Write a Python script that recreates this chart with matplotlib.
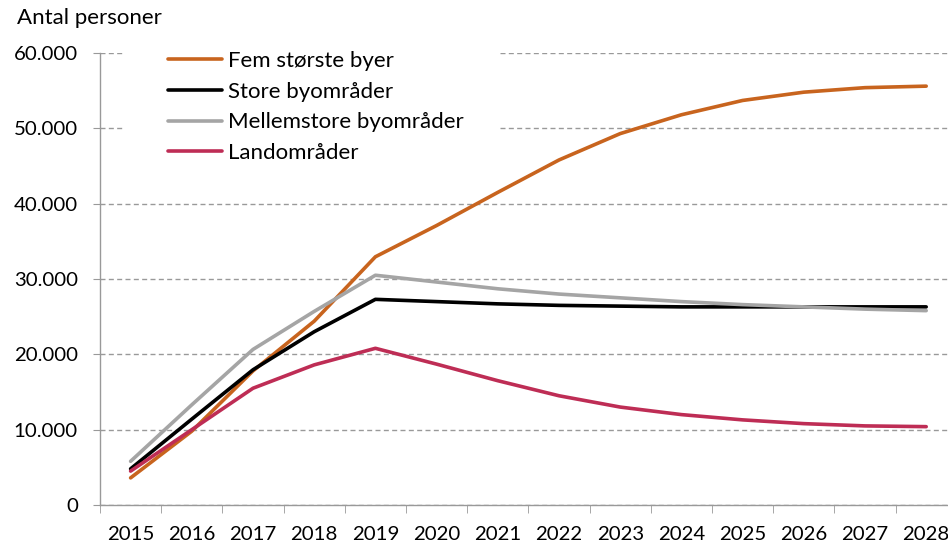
import matplotlib
matplotlib.use("Agg")
import matplotlib.pyplot as plt
from matplotlib.patches import Rectangle
from matplotlib.ticker import FuncFormatter, MultipleLocator, FixedLocator

years = [2015, 2016, 2017, 2018, 2019, 2020, 2021, 2022, 2023, 2024, 2025, 2026, 2027, 2028]

fem_stoerste = [3600, 9800, 17800, 24400, 32950, 37100, 41500, 45800, 49300, 51800, 53700, 54800, 55400, 55600]
store_by = [4800, 11400, 17950, 23000, 27300, 27000, 26700, 26500, 26400, 26300, 26300, 26300, 26300, 26300]
mellemstore = [5800, 13300, 20650, 25700, 30500, 29600, 28700, 28000, 27500, 27000, 26600, 26300, 26000, 25800]
land = [4500, 10000, 15500, 18600, 20800, 18700, 16500, 14500, 13000, 12000, 11300, 10800, 10500, 10400]

series = [
    ("Fem største byer", fem_stoerste, "#C8641E"),
    ("Store byområder", store_by, "#000000"),
    ("Mellemstore byområder", mellemstore, "#A5A5A5"),
    ("Landområder", land, "#BE2D55"),
]

plt.rcParams['font.family'] = ['Lato', 'DejaVu Sans']

fig = plt.figure(figsize=(9.48, 5.44), dpi=100)
W, H = 948, 544
step = 61.2
ax = fig.add_axes([100 / W, (H - 505) / H, 14 * step / W, 452 / H])

x = list(range(len(years)))
for name, vals, col in series:
    ax.plot(x, vals, color=col, lw=2.6, label=name, solid_capstyle='round', zorder=3)

ax.set_xlim(-0.5, len(years) - 0.5)
ax.set_ylim(0, 60000)
ax.yaxis.set_major_locator(MultipleLocator(10000))
ax.yaxis.set_major_formatter(FuncFormatter(lambda v, p: f"{int(v):,}".replace(",", ".")))
ax.grid(axis='y', color='#999999', linestyle=(0, (3.6, 2.4)), linewidth=1)
ax.set_axisbelow(True)

ax.set_xticks(x)
ax.set_xticklabels([str(y) for y in years])
ax.xaxis.set_minor_locator(FixedLocator([i - 0.5 for i in range(len(years) + 1)]))
ax.tick_params(axis='x', which='major', length=0, pad=15, labelsize=14.7)
ax.tick_params(axis='x', which='minor', length=5.5, color='#999999', direction='out')
ax.tick_params(axis='y', length=5, color='#999999', pad=11, labelsize=14.7)

for s in ['top', 'right']:
    ax.spines[s].set_visible(False)
for s in ['left', 'bottom']:
    ax.spines[s].set_color('#999999')
    ax.spines[s].set_linewidth(1)

# white legend background hiding the gridlines behind it
ax.add_patch(Rectangle((125 / W, 1 - 172 / H), 375 / W, 128 / H, transform=fig.transFigure,
                       facecolor='white', edgecolor='none', zorder=1, clip_on=False))

ax.legend(loc='upper left', bbox_to_anchor=(168 / W, 1 - 51 / H), bbox_transform=fig.transFigure,
          frameon=False, fontsize=16, borderpad=0, borderaxespad=0,
          handlelength=2.45, handletextpad=0.27, labelspacing=0.48)

fig.text(17 / W, 1 - 18 / H, "Antal personer", fontsize=16, ha='left', va='center')

fig.savefig("out.png", dpi=100)
